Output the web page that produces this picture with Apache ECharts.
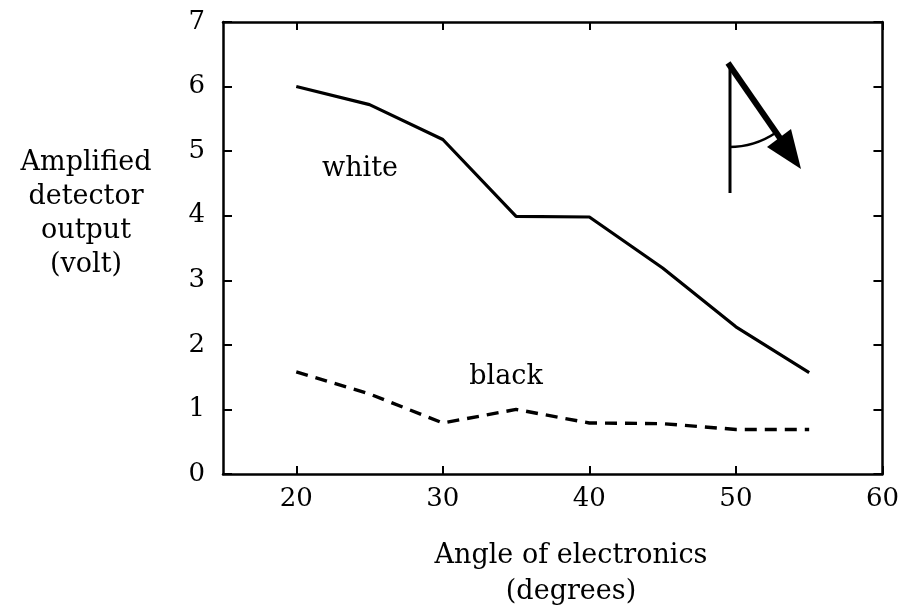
<!DOCTYPE html>
<html>
<head>
<meta charset="utf-8">
<script src="https://cdn.jsdelivr.net/npm/echarts@6/dist/echarts.min.js"></script>
<style>html,body{margin:0;padding:0;background:#fff}#c{width:902px;height:615px}</style>
</head>
<body>
<div id="c"></div>
<script>
var angles = [20, 25, 30, 35, 40, 45, 50, 55];
var whiteOutput = [6.0, 5.72, 5.18, 3.99, 3.98, 3.19, 2.28, 1.57];
var blackOutput = [1.58, 1.24, 0.79, 1.0, 0.79, 0.78, 0.69, 0.69];
var xTicks = [20, 30, 40, 50, 60];
var yTicks = [0, 1, 2, 3, 4, 5, 6, 7];
var yTitle = ['Amplified', 'detector', 'output', '(volt)'];
var xTitle = ['Angle of electronics', '(degrees)'];

var FONT = 'DejaVu Serif';
var INK = '#000';
function pairs(xs, ys) { return xs.map(function (x, i) { return [x, ys[i]]; }); }
function axisLine() { return {show: true, onZero: false, lineStyle: {color: INK, width: 2.5}}; }
function tick(vals, len) { return {show: true, inside: true, length: len, lineStyle: {color: INK, width: 2}, customValues: vals}; }

var chart = echarts.init(document.getElementById('c'), null, {renderer: 'canvas'});
chart.setOption({
  backgroundColor: '#fff',
  animation: false,
  grid: {left: 223, right: 19, top: 22, bottom: 141, containLabel: false},
  xAxis: [
    {type: 'value', min: 15, max: 60, position: 'bottom', axisLine: axisLine(), axisTick: tick(xTicks, 8),
     axisLabel: {show: true, margin: 12, fontFamily: FONT, fontSize: 26, color: INK, customValues: xTicks},
     splitLine: {show: false}},
    {type: 'value', min: 15, max: 60, position: 'top', axisLine: axisLine(), axisTick: tick(xTicks, 8),
     axisLabel: {show: false}, splitLine: {show: false}}
  ],
  yAxis: [
    {type: 'value', min: 0, max: 7, position: 'left', axisLine: axisLine(), axisTick: tick(yTicks, 9),
     axisLabel: {show: true, margin: 18, fontFamily: FONT, fontSize: 26, color: INK, customValues: yTicks},
     splitLine: {show: false}},
    {type: 'value', min: 0, max: 7, position: 'right', axisLine: axisLine(), axisTick: tick(yTicks, 9),
     axisLabel: {show: false}, splitLine: {show: false}}
  ],
  series: [
    {name: 'white', type: 'line', data: pairs(angles, whiteOutput), showSymbol: false,
     lineStyle: {color: INK, width: 3.2}, z: 3},
    {name: 'black', type: 'line', data: pairs(angles, blackOutput), showSymbol: false,
     lineStyle: {color: INK, width: 3.4, type: [12, 8]}, z: 3}
  ],
  graphic: [
    {type: 'text', x: 86, y: 214, style: {text: yTitle.join('\n'), font: '27px "' + FONT + '"', fill: INK,
      align: 'center', verticalAlign: 'middle', lineHeight: 34}},
    {type: 'text', x: 571, y: 574, style: {text: xTitle.join('\n'), font: '27px "' + FONT + '"', fill: INK,
      align: 'center', verticalAlign: 'middle', lineHeight: 36}},
    {type: 'text', x: 360, y: 169, style: {text: 'white', font: '27px "' + FONT + '"', fill: INK,
      align: 'center', verticalAlign: 'middle'}},
    {type: 'text', x: 506, y: 377, style: {text: 'black', font: '27px "' + FONT + '"', fill: INK,
      align: 'center', verticalAlign: 'middle'}},
    // angle diagram
    {type: 'line', shape: {x1: 730, y1: 66, x2: 730, y2: 193}, style: {stroke: INK, lineWidth: 3}},
    {type: 'line', shape: {x1: 728, y1: 63, x2: 782, y2: 141}, style: {stroke: INK, lineWidth: 6, lineCap: 'butt'}},
    {type: 'polygon', shape: {points: [[801, 169], [767, 147], [791, 129]]}, style: {fill: INK}},
    {type: 'arc', shape: {cx: 729, cy: 63, r: 84, startAngle: 0.98, endAngle: Math.PI / 2, clockwise: true},
     style: {stroke: INK, lineWidth: 2.5, fill: null}}
  ]
});
</script>
</body>
</html>
